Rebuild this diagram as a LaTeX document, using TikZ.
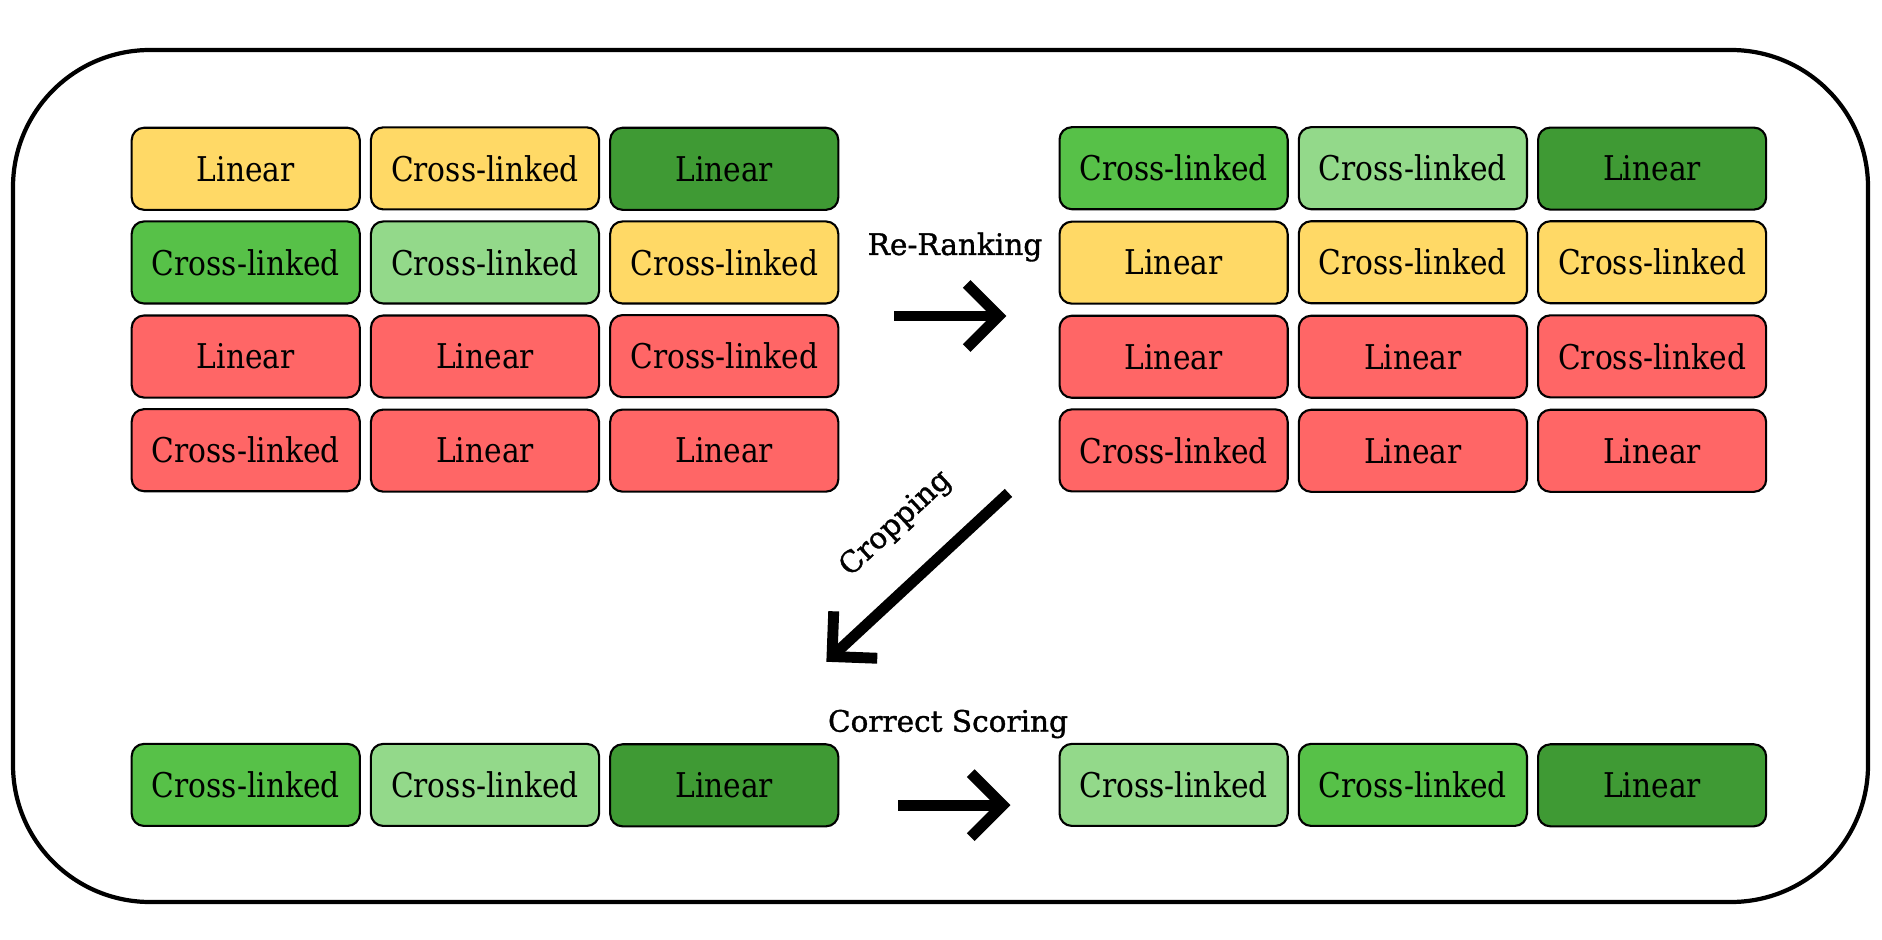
\documentclass[tikz,border=0pt]{standalone}
\usepackage{fontspec}
\setmainfont{DejaVu Serif}
\newfontfamily\cellfont[FakeStretch=0.87]{DejaVu Serif}
\newfontfamily\labelfont[FakeBold=1.2]{DejaVu Serif}
\usetikzlibrary{positioning,matrix,arrows.meta}

\definecolor{cellyellow}{HTML}{FFD966}
\definecolor{celldark}{HTML}{3F9A34}
\definecolor{cellmid}{HTML}{57C148}
\definecolor{celllight}{HTML}{93D98A}
\definecolor{cellred}{HTML}{FF6666}

\begin{document}
\begin{tikzpicture}[x=0.01cm,y=-0.01cm,
        cell/.style={draw, line width=0.6pt, rounded corners=3.5pt, minimum width=2.28cm,
            minimum height=0.82cm, inner sep=0pt, font=\cellfont\fontsize{9.7}{11}\selectfont},
        grid/.style={matrix of nodes, nodes={cell}, inner sep=0pt, outer sep=0pt,
            column sep=0.09cm, row sep=0.095cm},
        bigarrow/.style={line width=3.1pt, -{Straight Barb[length=3.2mm,width=6.4mm]}},
        steplabel/.style={font=\labelfont\fontsize{8.4}{10}\selectfont}]
        \useasboundingbox (0,0) rectangle (1882,940);
        \draw[line width=1.2pt, rounded corners=1.37cm] (13,50) rectangle (1868,902);
        \matrix (before) [grid] at (485,309.5) {
                |[fill=cellyellow]|Linear & |[fill=cellyellow]|Cross-linked & |[fill=celldark]|Linear\\
                |[fill=cellmid]|Cross-linked & |[fill=celllight]|Cross-linked & |[fill=cellyellow]|Cross-linked\\
                |[fill=cellred]|Linear & |[fill=cellred]|Linear & |[fill=cellred]|Cross-linked\\
                |[fill=cellred]|Cross-linked & |[fill=cellred]|Linear & |[fill=cellred]|Linear\\};
        \matrix (after) [grid, right=2.19cm of before] {
                |[fill=cellmid]|Cross-linked & |[fill=celllight]|Cross-linked & |[fill=celldark]|Linear\\
                |[fill=cellyellow]|Linear & |[fill=cellyellow]|Cross-linked & |[fill=cellyellow]|Cross-linked\\
                |[fill=cellred]|Linear & |[fill=cellred]|Linear & |[fill=cellred]|Cross-linked\\
                |[fill=cellred]|Cross-linked & |[fill=cellred]|Linear & |[fill=cellred]|Linear\\};
        \matrix (cropped) [grid, below=2.5cm of before] {
                |[fill=cellmid]|Cross-linked & |[fill=celllight]|Cross-linked & |[fill=celldark]|Linear\\};
        \matrix (scored) [grid, right=2.19cm of cropped] {
                |[fill=celllight]|Cross-linked & |[fill=cellmid]|Cross-linked & |[fill=celldark]|Linear\\};
        % steps between the grids
        \draw[bigarrow] ([xshift=0.55cm,yshift=-0.065cm]before.east) -- ([xshift=-0.52cm,yshift=-0.065cm]after.west);
        \node[steplabel] (rerank) at (955,247) {Re-Ranking};
        \draw[bigarrow] ([xshift=-0.5cm]after.south west) -- ([xshift=-0.13cm,yshift=0.81cm]cropped.north east);
        \node[steplabel, rotate=43] (crop) at (896,524) {Cropping};
        \draw[bigarrow] ([xshift=0.59cm,yshift=-0.2cm]cropped.east) -- ([xshift=-0.48cm,yshift=-0.2cm]scored.west);
        \node[steplabel] (score) at (948,724) {Correct Scoring};
\end{tikzpicture}
\end{document}
